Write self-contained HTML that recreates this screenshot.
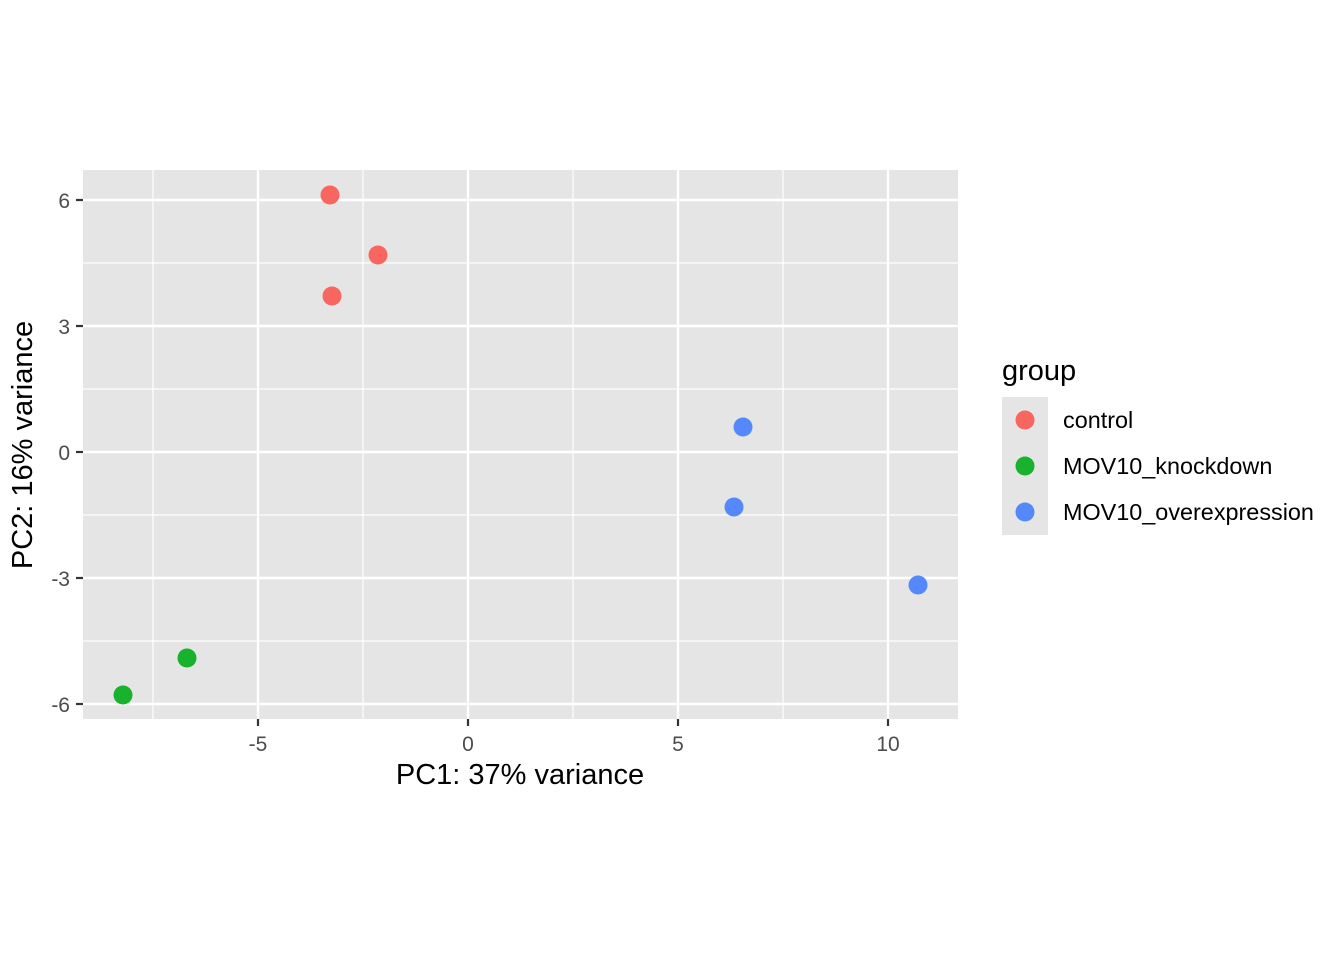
<!DOCTYPE html>
<html><head><style>body{margin:0;background:#fff}</style></head><body>
<svg width="1344" height="960" xmlns="http://www.w3.org/2000/svg" font-family="Liberation Sans, Arial, sans-serif">
<rect x="0" y="0" width="1344" height="960" fill="#fff"/>
<rect x="83" y="170" width="875" height="549" fill="#e5e5e5"/>
<g stroke="#fff" stroke-width="1.2">
<line x1="153" y1="170" x2="153" y2="719"/><line x1="363" y1="170" x2="363" y2="719"/><line x1="573" y1="170" x2="573" y2="719"/><line x1="783" y1="170" x2="783" y2="719"/>
<line x1="83" y1="263" x2="958" y2="263"/><line x1="83" y1="389" x2="958" y2="389"/><line x1="83" y1="515" x2="958" y2="515"/><line x1="83" y1="641" x2="958" y2="641"/>
</g>
<g stroke="#fff" stroke-width="2.4">
<line x1="258" y1="170" x2="258" y2="719"/><line x1="468" y1="170" x2="468" y2="719"/><line x1="678" y1="170" x2="678" y2="719"/><line x1="888" y1="170" x2="888" y2="719"/>
<line x1="83" y1="200" x2="958" y2="200"/><line x1="83" y1="326" x2="958" y2="326"/><line x1="83" y1="452" x2="958" y2="452"/><line x1="83" y1="578" x2="958" y2="578"/><line x1="83" y1="704" x2="958" y2="704"/>
</g>
<g stroke="#333" stroke-width="2.2">
<line x1="76" y1="200" x2="83" y2="200"/><line x1="76" y1="326" x2="83" y2="326"/><line x1="76" y1="452" x2="83" y2="452"/><line x1="76" y1="578" x2="83" y2="578"/><line x1="76" y1="704" x2="83" y2="704"/>
<line x1="258" y1="719" x2="258" y2="726"/><line x1="468" y1="719" x2="468" y2="726"/><line x1="678" y1="719" x2="678" y2="726"/><line x1="888" y1="719" x2="888" y2="726"/>
</g>
<g fill="#4d4d4d" font-size="21" text-anchor="end">
<text x="70" y="208">6</text><text x="70" y="334">3</text><text x="70" y="460">0</text><text x="70" y="586">-3</text><text x="70" y="712">-6</text>
</g>
<g fill="#4d4d4d" font-size="21" text-anchor="middle">
<text x="258" y="751">-5</text><text x="468" y="751">0</text><text x="678" y="751">5</text><text x="888" y="751">10</text>
</g>
<text x="520" y="784" font-size="29" text-anchor="middle" fill="#000">PC1: 37% variance</text>
<text transform="translate(32,445) rotate(-90)" font-size="29" text-anchor="middle" fill="#000">PC2: 16% variance</text>
<g fill="#F8665F"><circle cx="330" cy="195" r="9.5"/><circle cx="378" cy="255" r="9.5"/><circle cx="332" cy="296" r="9.5"/></g>
<g fill="#18B22C"><circle cx="187" cy="658" r="9.5"/><circle cx="123" cy="695" r="9.5"/></g>
<g fill="#5589FB"><circle cx="743" cy="427" r="9.5"/><circle cx="734" cy="507" r="9.5"/><circle cx="918" cy="585" r="9.5"/></g>
<text x="1002" y="380" font-size="29" fill="#000">group</text>
<rect x="1002" y="397" width="46" height="138" fill="#e5e5e5"/>
<circle cx="1025" cy="420" r="9.5" fill="#F8665F"/>
<circle cx="1025" cy="466" r="9.5" fill="#18B22C"/>
<circle cx="1025" cy="512" r="9.5" fill="#5589FB"/>
<g font-size="23.4" fill="#000">
<text x="1063" y="428">control</text><text x="1063" y="474">MOV10_knockdown</text><text x="1063" y="520">MOV10_overexpression</text>
</g>
</svg>
</body></html>
